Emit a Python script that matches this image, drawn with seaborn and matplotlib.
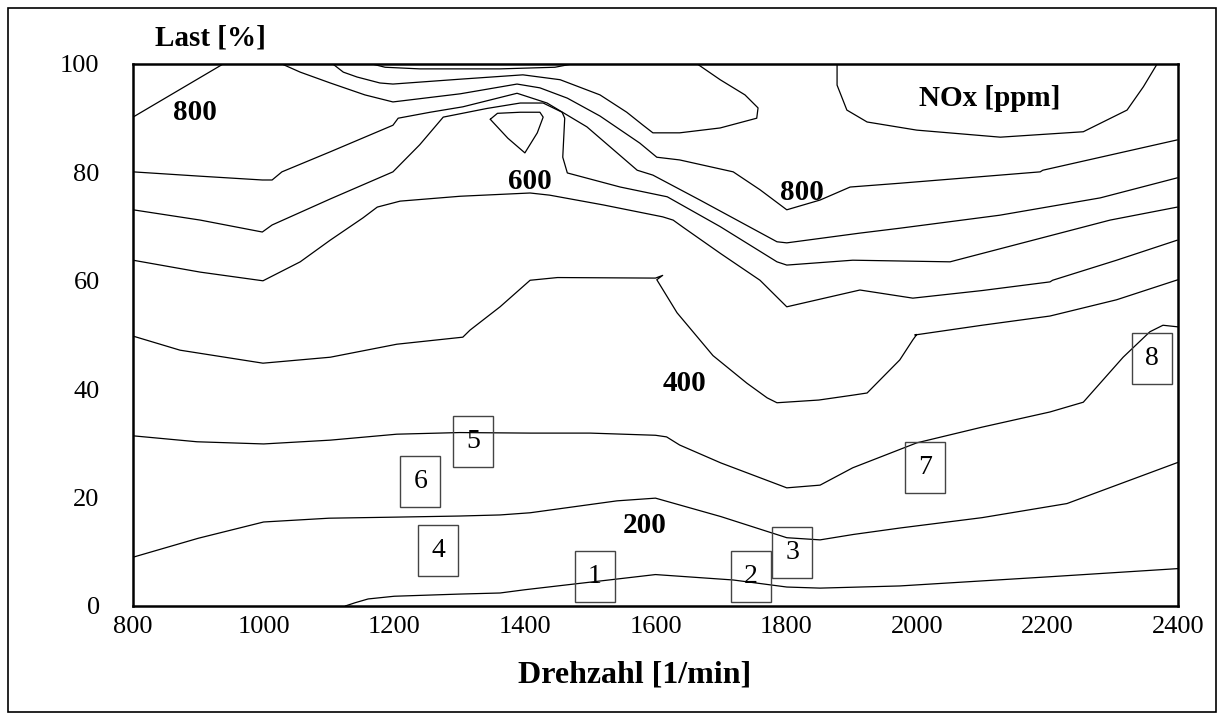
import matplotlib.pyplot as plt
import pandas as pd
import seaborn as sns
from matplotlib.patches import Rectangle
from matplotlib.ticker import MultipleLocator

sns.set_theme(style="white")
plt.rcParams["font.family"] = ["Liberation Serif", "DejaVu Serif"]
plt.rcParams["figure.dpi"] = 100
plt.rcParams["text.color"] = "black"
plt.rcParams["axes.labelcolor"] = "black"

# NOx iso-lines: engine speed [1/min] vs. load [%]
line_1_rpm = [1125, 1140, 1160, 1200, 1300, 1362, 1400, 1500, 1600, 1719, 1801, 1852, 1974, 2204, 2400]
line_1_load = [0, 0.6, 1.3, 1.8, 2.2, 2.4, 3.0, 4.4, 5.8, 4.8, 3.5, 3.3, 3.7, 5.4, 6.9]

line_2_rpm = [800, 900, 1000, 1100, 1204, 1300, 1362, 1408, 1541, 1600, 1700, 1801, 1852, 1903, 1975, 2100, 2230, 2400]
line_2_load = [9.0, 12.5, 15.5, 16.2, 16.4, 16.6, 16.8, 17.2, 19.4, 19.9, 16.5, 12.6, 12.2, 13.2, 14.4, 16.3, 18.9, 26.5]

line_3_rpm = [800, 898, 1000, 1102, 1204, 1300, 1408, 1500, 1600, 1617, 1637, 1700, 1801, 1852, 1902, 2000,
              2100, 2204, 2255, 2316, 2357, 2377, 2400]
line_3_load = [31.4, 30.3, 29.9, 30.6, 31.7, 32.0, 31.9, 31.9, 31.5, 31.2, 29.7, 26.4, 21.8, 22.3, 25.5, 30.1,
               33.0, 35.8, 37.6, 45.9, 50.6, 51.8, 51.5]

line_4_rpm = [800, 872, 999, 1102, 1204, 1305, 1316, 1362, 1408, 1450, 1600, 1611, 1602, 1633, 1688, 1740, 1771,
              1786, 1850, 1902, 1924, 1974, 1994, 2000, 1997, 2100, 2204, 2306, 2400]
line_4_load = [49.8, 47.2, 44.8, 45.9, 48.3, 49.6, 50.9, 55.2, 60.1, 60.6, 60.5, 61.0, 60.2, 54.1, 46.2, 41.1, 38.4,
               37.5, 38.0, 38.9, 39.3, 45.4, 49.1, 50.1, 50.0, 51.8, 53.5, 56.5, 60.2]

line_5_rpm = [800, 903, 999, 1056, 1102, 1152, 1174, 1209, 1301, 1408, 1438, 1520, 1611, 1627, 1642, 1700, 1760,
              1801, 1913, 1994, 2100, 2204, 2208, 2306, 2399]
line_5_load = [63.8, 61.6, 60.0, 63.5, 67.5, 71.6, 73.6, 74.7, 75.6, 76.2, 75.8, 74.0, 71.8, 71.2, 69.9, 65.0, 60.1,
               55.2, 58.3, 56.8, 58.2, 59.8, 60.1, 63.8, 67.5]

line_6_rpm = [800, 903, 998, 1013, 1102, 1198, 1239, 1275, 1342, 1393, 1428, 1457, 1461, 1458, 1465, 1546, 1618,
              1699, 1786, 1801, 1902, 2051, 2296, 2399]
line_6_load = [73.1, 71.2, 69.0, 70.3, 75.1, 80.1, 85.1, 90.2, 91.8, 92.8, 92.8, 91.1, 90.0, 82.8, 79.9, 77.3, 75.5,
               70.0, 63.5, 62.9, 63.8, 63.5, 71.2, 73.6]

line_7_rpm = [800, 903, 998, 1013, 1028, 1102, 1198, 1206, 1255, 1305, 1388, 1434, 1495, 1572, 1596, 1668, 1786,
              1801, 1913, 1974, 2127, 2281, 2399]
line_7_load = [80.1, 79.3, 78.6, 78.6, 80.1, 83.8, 88.7, 90.0, 91.1, 92.1, 94.6, 92.8, 88.4, 80.4, 79.5, 74.9, 67.2,
               67.0, 68.8, 69.7, 72.1, 75.3, 79.0]

line_8_rpm = [1028, 1056, 1102, 1155, 1198, 1301, 1388, 1423, 1465, 1515, 1576, 1602, 1637, 1719, 1760, 1801, 1852,
              1898, 1974, 2189, 2193, 2399]
line_8_load = [100, 98.5, 96.5, 94.3, 93.0, 94.5, 96.3, 95.6, 93.7, 90.4, 85.4, 82.8, 82.3, 80.1, 76.8, 73.1, 74.9,
               77.3, 78.0, 80.1, 80.4, 86.0]

line_9_rpm = [1106, 1122, 1143, 1178, 1198, 1301, 1397, 1454, 1515, 1556, 1581, 1596, 1637, 1699, 1755, 1757, 1737,
              1699, 1664]
line_9_load = [100, 98.5, 97.6, 96.5, 96.3, 97.2, 98.0, 97.1, 94.3, 91.1, 88.7, 87.3, 87.3, 88.2, 90.0, 91.9, 94.3,
               97.1, 100]

top_lens_rpm = [1166, 1186, 1239, 1362, 1446, 1472]
top_lens_load = [100, 99.4, 99.1, 99.1, 99.4, 100]

island_rpm = [1347, 1358, 1393, 1423, 1428, 1419, 1400, 1374, 1347]
island_load = [89.8, 90.9, 91.1, 91.1, 90.2, 87.3, 83.6, 86.3, 89.8]

corner_rpm = [800, 938]
corner_load = [90.2, 100]

peak_rpm = [1878, 1878, 1893, 1924, 2000, 2128, 2255, 2322, 2347, 2368]
peak_load = [100, 96.1, 91.5, 89.3, 87.8, 86.5, 87.5, 91.5, 95.8, 100]

# contour level labels (bold) and numbered measuring points (boxed)
level_text = ["800", "600", "800", "400", "200", "NOx [ppm]"]
level_rpm = [895, 1408, 1824, 1644, 1583, 2112]
level_load = [91.0, 78.4, 76.2, 41.0, 14.8, 93.7]

point_text = ["1", "2", "3", "4", "5", "6", "7", "8"]
point_rpm = [1507, 1746, 1809, 1267, 1321, 1240, 2013, 2360]
point_load = [5.4, 5.4, 9.8, 10.3, 30.4, 22.9, 25.5, 45.6]

x_ticks = [800, 1000, 1200, 1400, 1600, 1800, 2000, 2200, 2400]
y_ticks = [0, 20, 40, 60, 80, 100]

lines = {
    "l1": (line_1_rpm, line_1_load), "l2": (line_2_rpm, line_2_load),
    "l3": (line_3_rpm, line_3_load), "l4": (line_4_rpm, line_4_load),
    "l5": (line_5_rpm, line_5_load), "l6": (line_6_rpm, line_6_load),
    "l7": (line_7_rpm, line_7_load), "l8": (line_8_rpm, line_8_load),
    "l9": (line_9_rpm, line_9_load), "lens": (top_lens_rpm, top_lens_load),
    "island": (island_rpm, island_load), "corner": (corner_rpm, corner_load),
    "peak": (peak_rpm, peak_load),
}
df = pd.concat(
    [pd.DataFrame({"line": name, "rpm": xs, "load": ys}) for name, (xs, ys) in lines.items()],
    ignore_index=True,
)

fig = plt.figure(figsize=(12.24, 7.2))
ax = fig.add_axes([133 / 1224, 1 - 606 / 720, 1045 / 1224, 542 / 720])

sns.lineplot(data=df, x="rpm", y="load", units="line", estimator=None, sort=False,
             color="black", linewidth=0.9, legend=False, ax=ax)

for txt, x, y in zip(level_text, level_rpm, level_load):
    ax.text(x, y, txt, ha="center", va="center", fontsize=21, fontweight="bold", color="black")

for txt, x, y in zip(point_text, point_rpm, point_load):
    ax.text(x, y, txt, ha="center", va="center", fontsize=20, color="black",
            bbox=dict(boxstyle="square,pad=0.47", fc="none", ec="#444444", lw=1.0))

ax.set_xlim(800, 2400)
ax.set_ylim(0, 100)
ax.set_xticks(x_ticks)
ax.set_yticks(y_ticks)
ax.xaxis.set_minor_locator(MultipleLocator(100))
ax.yaxis.set_minor_locator(MultipleLocator(10))
ax.tick_params(which="both", direction="in", colors="black", labelcolor="black", labelsize=19)
ax.tick_params(axis="x", which="major", length=9.5, width=1.0, pad=7)
ax.tick_params(axis="x", which="minor", length=4, width=1.0)
ax.tick_params(axis="y", which="major", length=10, width=1.2, pad=24)
ax.tick_params(axis="y", which="minor", length=5.5, width=1.2)
for spine in ax.spines.values():
    spine.set_color("black")
    spine.set_linewidth(1.8)

ax.set_xlabel("Drehzahl [1/min]", fontsize=23, fontweight="bold", color="black")
ax.xaxis.set_label_coords(0.480, -0.101)
ax.set_ylabel("Last [%]", fontsize=21, fontweight="bold", color="black", rotation=0, ha="center", va="center")
ax.yaxis.set_label_coords(0.0737, 1.048)

fig.patches.append(Rectangle((8 / 1224, 8 / 720), 1208 / 1224, 704 / 720, transform=fig.transFigure,
                             fill=False, ec="black", lw=1.2))

fig.savefig("out.png", dpi=100, facecolor="white")
